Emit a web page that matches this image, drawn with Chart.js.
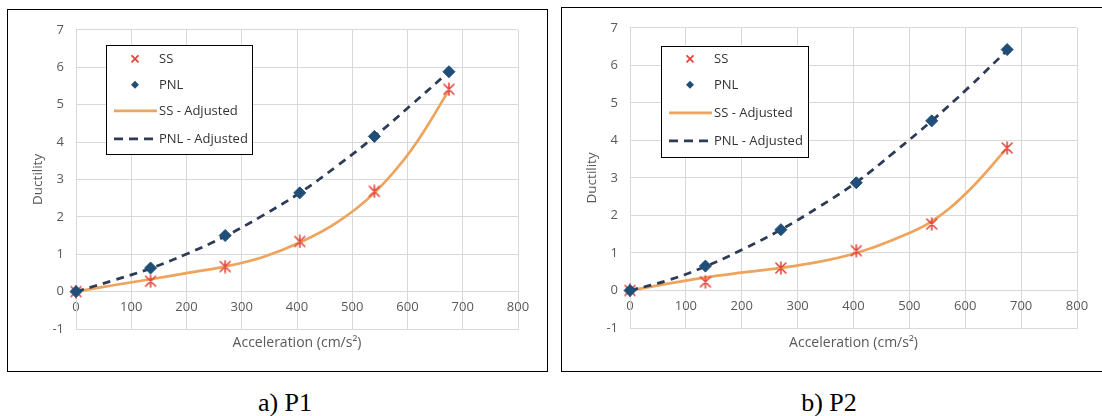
<!DOCTYPE html>
<html>
<head>
<meta charset="utf-8">
<script src="https://cdn.jsdelivr.net/npm/chart.js@4.4.1/dist/chart.umd.min.js"></script>
<style>
  html, body { margin: 0; padding: 0; background: #ffffff; }
  body { width: 1102px; height: 416px; position: relative; overflow: hidden; }
  .panel { position: absolute; border: 1px solid #000; background: #fff; }
  .panel canvas { display: block; }
  .caption { position: absolute; font-family: "Liberation Serif", "Times New Roman", serif; font-size: 26px; color: #000; transform: translateX(-50%); white-space: nowrap; line-height: 1; }
</style>
</head>
<body>
<div class="panel" id="p1" style="left:7px; top:9px; width:539px; height:361px;"><canvas id="c1" width="539" height="361"></canvas></div>
<div class="panel" id="p2" style="left:561px; top:7px; width:542px; height:363px;"><canvas id="c2" width="539" height="363"></canvas></div>
<div class="caption" style="left:285px; top:390px;">a) P1</div>
<div class="caption" style="left:829px; top:390px;">b) P2</div>
<script>
// ---------- data ----------
const accel = [0, 135, 270, 405, 540, 675];
const ssP1 = [0, 0.28, 0.67, 1.34, 2.68, 5.41];
const pnlP1 = [0, 0.63, 1.50, 2.64, 4.15, 5.88];
const ssP2 = [0, 0.23, 0.60, 1.06, 1.77, 3.80];
const pnlP2 = [0, 0.65, 1.62, 2.87, 4.52, 6.42];

const fitAccel = [0, 67.5, 135, 202.5, 270, 337.5, 405, 472.5, 540, 607.5, 675];
const ssAdjP1 = [0, 0.17, 0.33, 0.50, 0.67, 0.92, 1.31, 1.85, 2.64, 3.80, 5.38];
const pnlAdjP1 = [0, 0.30, 0.62, 1.02, 1.48, 2.03, 2.64, 3.36, 4.14, 5.00, 5.88];
const ssAdjP2 = [0, 0.18, 0.35, 0.48, 0.60, 0.76, 1.00, 1.36, 1.84, 2.68, 3.80];
const pnlAdjP2 = [0, 0.27, 0.64, 1.10, 1.62, 2.22, 2.88, 3.68, 4.52, 5.43, 6.40];

const xTickLabels = [0, 100, 200, 300, 400, 500, 600, 700, 800];
const yTickLabels = [-1, 0, 1, 2, 3, 4, 5, 6, 7];

const seriesNames = ['SS', 'PNL', 'SS - Adjusted', 'PNL - Adjusted'];
const xTitle = 'Acceleration (cm/s²)';
const yTitle = 'Ductility';

// ---------- styles ----------
const FONT = '"Open Sans", "Noto Sans", sans-serif';
const RED = '#e2453c';
const NAVY = '#1f4e79';
const ORANGE = '#eea45c';
const DASH = '#2d3b55';
const GRID = '#d9d9d9';
const TICK = '#595959';

const pts = (xs, ys) => xs.map((x, i) => ({ x: x, y: ys[i] }));

// Excel-like star marker: an x plus a vertical stroke
function starMarker() {
  const c = document.createElement('canvas');
  c.width = 14; c.height = 14;
  const g = c.getContext('2d');
  g.strokeStyle = RED; g.lineWidth = 1.6; g.lineCap = 'round';
  g.beginPath();
  g.moveTo(2, 2); g.lineTo(12, 12);
  g.moveTo(12, 2); g.lineTo(2, 12);
  g.moveTo(7, 1); g.lineTo(7, 13);
  g.stroke();
  return c;
}
const STAR = starMarker();

// custom legend box drawn inside the plot area
const boxLegend = {
  id: 'boxLegend',
  afterDraw(chart, args, opts) {
    const ctx = chart.ctx;
    const a = chart.chartArea;
    const bx = a.left + opts.dx, by = a.top + opts.dy;
    ctx.save();
    ctx.fillStyle = '#fff';
    ctx.fillRect(bx, by, opts.w, opts.h);
    ctx.strokeStyle = '#000';
    ctx.lineWidth = 1;
    ctx.strokeRect(Math.round(bx) + 0.5, Math.round(by) + 0.5, opts.w, opts.h);
    const rows = opts.rows;
    ctx.font = '13px ' + FONT;
    ctx.fillStyle = '#333';
    ctx.textBaseline = 'middle';
    ctx.textAlign = 'left';
    const tx = bx + 53;
    const mx = bx + 29;
    // SS marker (x)
    let y = by + rows[0];
    ctx.strokeStyle = RED; ctx.lineWidth = 1.8;
    ctx.beginPath();
    ctx.moveTo(mx - 3.5, y - 3.5); ctx.lineTo(mx + 3.5, y + 3.5);
    ctx.moveTo(mx + 3.5, y - 3.5); ctx.lineTo(mx - 3.5, y + 3.5);
    ctx.stroke();
    ctx.fillText(seriesNames[0], tx, y);
    // PNL marker (diamond)
    y = by + rows[1];
    ctx.fillStyle = NAVY;
    ctx.beginPath();
    ctx.moveTo(mx, y - 4); ctx.lineTo(mx + 4, y); ctx.lineTo(mx, y + 4); ctx.lineTo(mx - 4, y); ctx.closePath();
    ctx.fill();
    ctx.fillStyle = '#333';
    ctx.fillText(seriesNames[1], tx, y);
    // SS - Adjusted (solid orange)
    y = by + rows[2];
    ctx.strokeStyle = ORANGE; ctx.lineWidth = 2.75;
    ctx.beginPath(); ctx.moveTo(bx + 8, y); ctx.lineTo(bx + 51, y); ctx.stroke();
    ctx.fillText(seriesNames[2], tx, y);
    // PNL - Adjusted (dashed)
    y = by + rows[3];
    ctx.strokeStyle = DASH; ctx.lineWidth = 2.75;
    ctx.setLineDash([9, 6]);
    ctx.beginPath(); ctx.moveTo(bx + 8, y); ctx.lineTo(bx + 51, y); ctx.stroke();
    ctx.setLineDash([]);
    ctx.fillText(seriesNames[3], tx, y);
    ctx.restore();
  }
};

function makeChart(canvasId, ss, pnl, ssAdj, pnlAdj, lay) {
  const xMin = xTickLabels[0], xMax = xTickLabels[xTickLabels.length - 1];
  const xStep = xTickLabels[1] - xTickLabels[0];
  const yMin = yTickLabels[0], yMax = yTickLabels[yTickLabels.length - 1];
  const yStep = yTickLabels[1] - yTickLabels[0];
  return new Chart(document.getElementById(canvasId), {
    type: 'scatter',
    data: {
      datasets: [
        { label: seriesNames[2], data: pts(fitAccel, ssAdj), showLine: true, borderColor: ORANGE, borderWidth: 2.75,
          pointRadius: 0, tension: 0.4, clip: false, order: 3 },
        { label: seriesNames[3], data: pts(fitAccel, pnlAdj), showLine: true, borderColor: DASH, borderWidth: 2.75,
          borderDash: [8, 6], pointRadius: 0, tension: 0.4, clip: false, order: 2 },
        { label: seriesNames[0], data: pts(accel, ss), pointStyle: STAR, pointRadius: 7, borderColor: RED,
          backgroundColor: RED, borderWidth: 1.5, clip: false, order: 1 },
        { label: seriesNames[1], data: pts(accel, pnl), pointStyle: 'rectRot', pointRadius: 6, borderColor: NAVY,
          backgroundColor: NAVY, borderWidth: 1, clip: false, order: 0 }
      ]
    },
    options: {
      responsive: false,
      animation: false,
      devicePixelRatio: 1,
      layout: { padding: { left: 0, right: lay.right, top: lay.top, bottom: 0 } },
      plugins: {
        legend: { display: false },
        tooltip: { enabled: false },
        boxLegend: lay.legend
      },
      scales: {
        x: {
          type: 'linear', position: 'bottom', min: xMin, max: xMax,
          ticks: { display: false, stepSize: xStep },
          grid: { color: GRID, drawTicks: false, lineWidth: 1 },
          border: { color: GRID },
          title: { display: true, text: xTitle, color: TICK, font: { family: FONT, size: 14 }, padding: { top: 0, bottom: lay.xTitlePad } },
          afterFit: (s) => { s.height = lay.xHeight; }
        },
        x2: {
          type: 'linear', axis: 'x', position: { y: 0 }, min: xMin, max: xMax,
          ticks: { stepSize: xStep, color: TICK, font: { family: FONT, size: 13 }, padding: lay.xTickPad },
          grid: { display: false, drawTicks: false },
          border: { display: false }
        },
        y: {
          type: 'linear', position: 'left', min: yMin, max: yMax,
          ticks: { stepSize: yStep, color: TICK, font: { family: FONT, size: 13 }, padding: 12 },
          grid: { color: GRID, drawTicks: false, lineWidth: 1 },
          border: { color: GRID },
          title: { display: true, text: yTitle, color: TICK, font: { family: FONT, size: 13.5 }, padding: { top: lay.yTitlePad, bottom: 0 } },
          afterFit: (s) => { s.width = lay.yWidth; }
        }
      }
    },
    plugins: [boxLegend]
  });
}

makeChart('c1', ssP1, pnlP1, ssAdjP1, pnlAdjP1, {
  right: 29, top: 18, xHeight: 42, xTitlePad: 20, xTickPad: 8, yWidth: 68, yTitlePad: 22,
  legend: { dx: 30, dy: 15, w: 146, h: 109, rows: [14, 40, 66, 94] }
});
makeChart('c2', ssP2, pnlP2, ssAdjP2, pnlAdjP2, {
  right: 24, top: 16, xHeight: 43, xTitlePad: 20, xTickPad: 8, yWidth: 68, yTitlePad: 22,
  legend: { dx: 31, dy: 18, w: 147, h: 111, rows: [13, 39, 67, 95] }
});
</script>
</body>
</html>
